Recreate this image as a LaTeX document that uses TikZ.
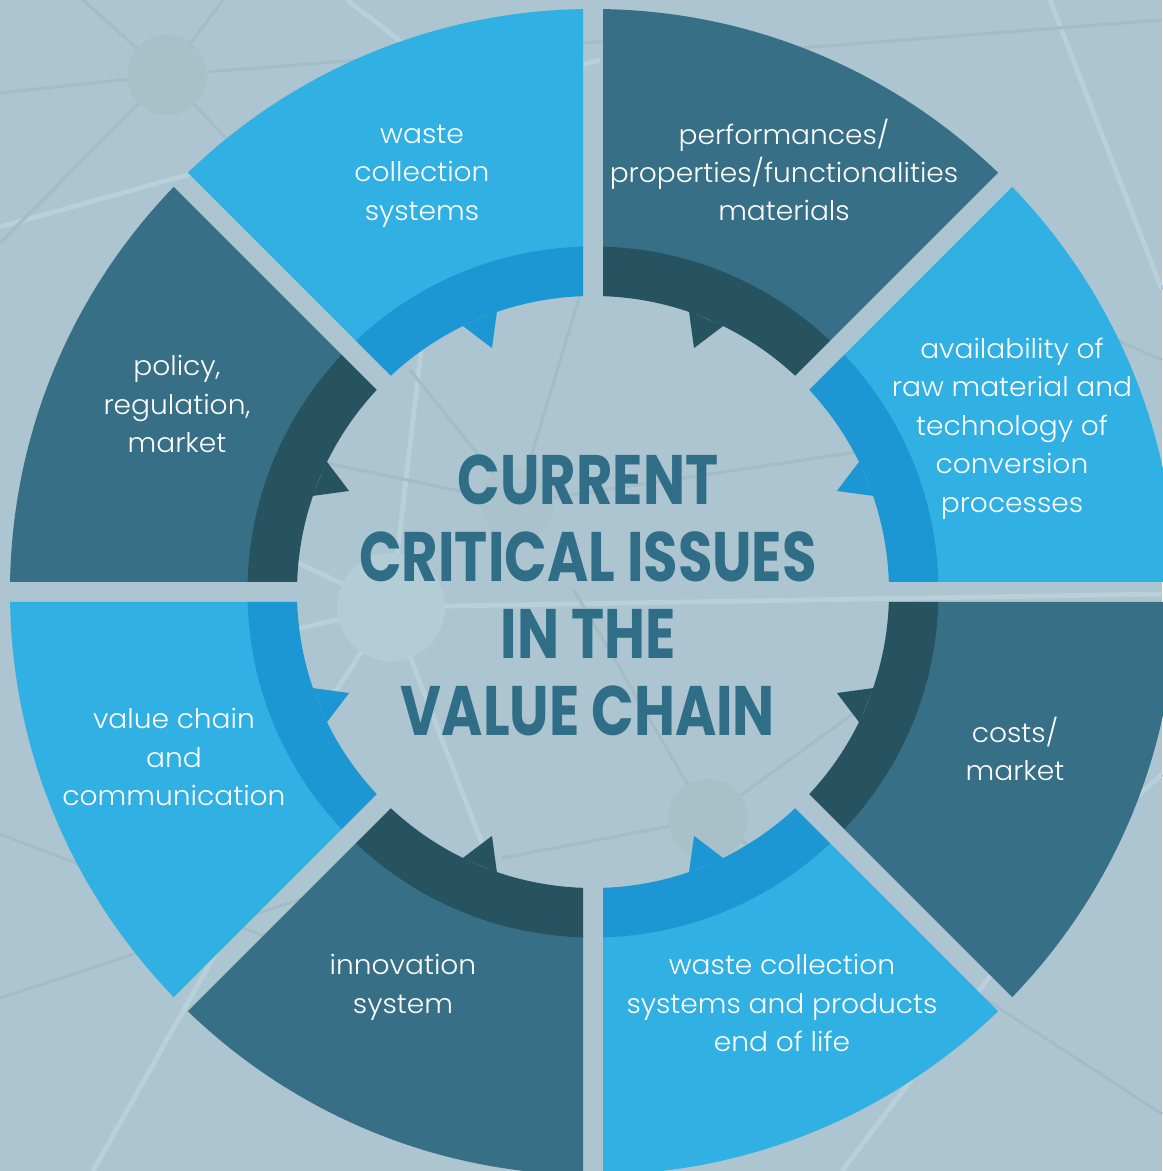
\documentclass[tikz,border=0pt]{standalone}
\usepackage{fontspec}
\IfFontExistsTF{Poppins Light}{\newfontfamily\labfont{Poppins Light}[FakeStretch=1.04]}{\newfontfamily\labfont{Poppins}[FakeStretch=1.04]}
\IfFontExistsTF{Poppins Bold}{\newfontfamily\titfont{Poppins Bold}[FakeStretch=0.8]}{\newfontfamily\titfont{Poppins}[FakeStretch=0.8,FakeBold=2]}
\definecolor{bgc}{HTML}{ACC5D0}
\definecolor{lb}{HTML}{30B0E3}
\definecolor{mb}{HTML}{1D97D3}
\definecolor{dt}{HTML}{377086}
\definecolor{db}{HTML}{27525F}
\definecolor{titc}{HTML}{2F6E86}
\definecolor{nl}{HTML}{B7D0D9}
\definecolor{nd}{HTML}{A3BCC6}
\definecolor{ncd}{HTML}{A8C0C7}
\definecolor{ncl}{HTML}{B3CDD6}
\tikzset{
  netlight/.style={draw=nl,line width=2.4pt},
  netdark/.style={draw=nd,line width=1.5pt},
  lab/.style={text=white,align=center,inner sep=0pt,font=\labfont\fontsize{13.5}{19.2}\selectfont},
  titlebox/.style={text=titc,align=center,inner sep=0pt,font=\titfont\fontsize{35}{38.5}\selectfont}
}
\begin{document}
\begin{tikzpicture}[x=0.5pt,y=0.5pt]
\useasboundingbox (-593,-579) rectangle (569,592);
\fill[bgc] (-593,-579) rectangle (569,592);
% background network, pixel coordinates
\begin{scope}[shift={(-593,592)},yscale=-1]
  \coordinate (n1) at (167,75);
  \coordinate (n2) at (391,607);
  \coordinate (n3) at (517,503);
  \coordinate (n4) at (708,819);
  \draw[netlight] (0,227) -- (600,60);
  \draw[netlight] (347,0) -- (470,95);
  \draw[netlight] (1050,0) -- (1162,290);
  \draw[netlight] (421,352) -- (n2);
  \draw[netlight] (n2) -- (1162,594);
  \draw[netlight] (n2) -- (250,540);
  \draw[netlight] (n2) -- (250,640);
  \draw[netlight] (n2) -- (330,700);
  \draw[netlight] (n2) -- (486,854);
  \draw[netlight] (93,1171) -- (240,910);
  \draw[netlight] (842,1171) -- (1010,950);
  \draw[netlight] (1162,774) -- (1090,840);
  \draw[netdark] (n1) -- (83,0);
  \draw[netdark] (n1) -- (223,0);
  \draw[netdark] (n1) -- (0,93);
  \draw[netdark] (n1) -- (0,243);
  \draw[netdark] (n1) -- (620,40);
  \draw[netdark] (n1) -- (330,250);
  \draw[netdark] (800,48) -- (1162,20);
  \draw[netdark] (1100,333) -- (1162,360);
  \draw[netdark] (n3) -- (580,295);
  \draw[netdark] (n3) -- (410,370);
  \draw[netdark] (n3) -- (326,463);
  \draw[netdark] (n3) -- (857,452);
  \draw[netdark] (n4) -- (574,590);
  \draw[netdark] (n4) -- (502,858);
  \draw[netdark] (n4) -- (861,708);
  \draw[netdark] (n4) -- (1162,1114);
  \draw[netdark] (0,834) -- (300,950);
  \draw[netdark] (0,998) -- (420,860);
  \fill[ncd] (n1) circle (40);
  \fill[ncl] (n2) circle (54);
  \fill[ncd!60!bgc] (n3) circle (37);
  \fill[ncd] (n4) circle (40);
\end{scope}
% ring segments
\foreach \a/\segc/\bandc in {0/lb/mb,45/dt/db,90/lb/mb,135/dt/db,180/lb/mb,225/dt/db,270/lb/mb,315/dt/db}{
  \pgfmathsetmacro\m{\a+22.5}
  \pgfmathsetmacro\b{\a+45}
  \pgfmathsetmacro\ml{\m+3.6}
  \pgfmathsetmacro\mr{\m-3.6}
  \begin{scope}
    \clip (\m:26.13) -- +(\a:1000) -- +(\b:1000) -- cycle;
    \fill[\segc,even odd rule] (0,0) circle (583) (0,0) circle (345);
    \fill[\bandc,even odd rule] (0,0) circle (345.5) (0,0) circle (296);
    \fill[\bandc] (\ml:296.5) -- (\m:264) -- (\mr:296.5) -- cycle;
  \end{scope}
}
% texts, pixel coordinates
\begin{scope}[shift={(-593,592)},yscale=-1]
  \node[titlebox] (title) at (588,595) {CURRENT\\CRITICAL ISSUES\\IN THE\\VALUE CHAIN};
  \node[lab] (l1) at (422,176) {waste\\collection\\systems};
  \node[lab] (l2) at (784,170) {performances/\\properties/functionalities\\materials};
  \node[lab] (l3) at (1012,428.5) {availability of\\raw material and\\technology of\\conversion\\processes};
  \node[lab] (l4) at (1015,749) {costs/\\market};
  \node[lab] (l5) at (782,1003) {waste collection\\systems and products\\end of life};
  \node[lab] (l6) at (403,987.5) {innovation\\system};
  \node[lab] (l7) at (174,757) {value chain\\and\\communication};
  \node[lab] (l8) at (177,404) {policy,\\regulation,\\market};
\end{scope}
\end{tikzpicture}
\end{document}
